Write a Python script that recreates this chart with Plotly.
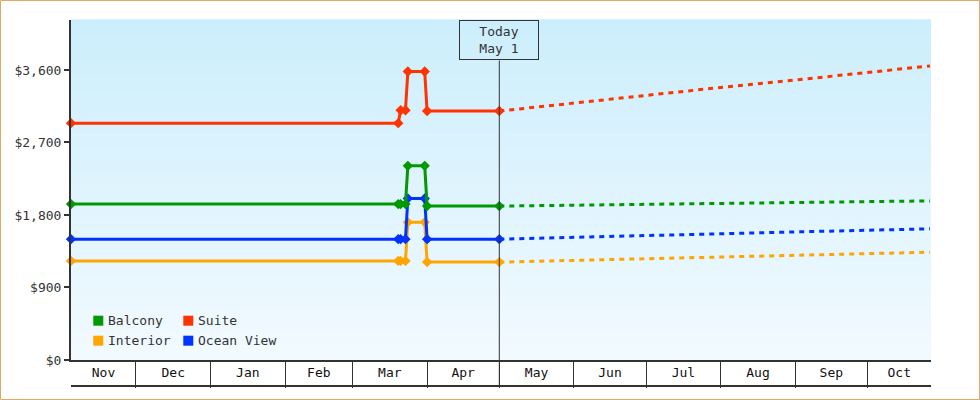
import plotly.graph_objects as go
import pandas as pd

# ---------------- data ----------------
hist_dates = ["2022-11-04", "2023-03-20", "2023-03-21", "2023-03-23",
              "2023-03-24", "2023-03-31", "2023-04-01", "2023-05-01"]
fc_dates = ["2023-05-01", "2023-06-01", "2023-07-01", "2023-08-01",
            "2023-09-01", "2023-10-01", "2023-10-27"]

balcony_hist = [1935, 1935, 1935, 1935, 2410, 2410, 1910, 1910]
suite_hist = [2940, 2940, 3100, 3100, 3580, 3580, 3090, 3090]
interior_hist = [1230, 1230, 1230, 1230, 1710, 1710, 1215, 1215]
ocean_hist = [1500, 1500, 1500, 1500, 2005, 2005, 1500, 1500]

balcony_fc = [1910, 1921, 1932, 1944, 1955, 1966, 1975]
suite_fc = [3090, 3190, 3285, 3383, 3475, 3570, 3650]
interior_fc = [1215, 1237, 1258, 1279, 1300, 1320, 1338]
ocean_fc = [1500, 1520, 1544, 1567, 1590, 1611, 1628]

month_names = ["Nov", "Dec", "Jan", "Feb", "Mar", "Apr",
               "May", "Jun", "Jul", "Aug", "Sep", "Oct"]
month_starts = ["2022-11-01", "2022-12-01", "2023-01-01", "2023-02-01",
                "2023-03-01", "2023-04-01", "2023-05-01", "2023-06-01",
                "2023-07-01", "2023-08-01", "2023-09-01", "2023-10-01",
                "2023-11-01"]
x_range = ["2022-11-04", "2023-10-27 10:00"]
y_ticks = [0, 900, 1800, 2700, 3600]
y_tick_labels = ["$0", "$900", "$1,800", "$2,700", "$3,600"]
today = "2023-05-01"

series = [
    ("Interior", interior_hist, interior_fc, "#ffa500"),
    ("Ocean View", ocean_hist, ocean_fc, "#0033ff"),
    ("Balcony", balcony_hist, balcony_fc, "#009900"),
    ("Suite", suite_hist, suite_fc, "#ff3300"),
]
legend_items = [("Balcony", "#009900"), ("Suite", "#ff3300"),
                ("Interior", "#ffa500"), ("Ocean View", "#0033ff")]

FONT = "DejaVu Sans Mono"
INK = "#333333"

# plot-area geometry (px) used to convert decorations to paper coords
L, R, T, B = 71, 49, 20, 40
W, H = 980, 400
PW, PH = W - L - R, H - T - B


def px_x(px):
    return (px - L) / PW


def px_y(py):
    return (H - B - py) / PH


fig = go.Figure()

for name, h, f, c in series:
    fig.add_trace(go.Scatter(
        x=fc_dates, y=f, mode="lines", name=name, showlegend=False,
        line=dict(color=c, width=3, dash="5px,5px"), cliponaxis=False,
        hoverinfo="skip"))
for name, h, f, c in series:
    fig.add_trace(go.Scatter(
        x=hist_dates, y=h, mode="lines+markers", name=name, showlegend=False,
        line=dict(color=c, width=3), cliponaxis=False,
        marker=dict(symbol="diamond", size=8, color=c)))

# invisible trace so the label axis exists
fig.add_trace(go.Scatter(x=[x_range[0]], y=[0], xaxis="x2", mode="markers",
                         marker=dict(opacity=0), showlegend=False,
                         hoverinfo="skip"))

# month label positions: middle of the visible part of each month
r0, r1 = pd.Timestamp(x_range[0]), pd.Timestamp(x_range[1])
mids = []
for i in range(len(month_names)):
    s = max(pd.Timestamp(month_starts[i]), r0)
    e = min(pd.Timestamp(month_starts[i + 1]), r1)
    mids.append((s + (e - s) / 2).strftime("%Y-%m-%d %H:%M"))

shapes = []
# background gradient
n = 68
top = (204, 238, 252)
bot = (242, 250, 255)
for i in range(n):
    t = (i + 0.5) / n
    col = tuple(round(bot[k] + (top[k] - bot[k]) * t) for k in range(3))
    shapes.append(dict(type="rect", xref="paper", yref="paper",
                       x0=0, x1=1, y0=i / n, y1=(i + 1) / n + 0.002,
                       fillcolor="rgb(%d,%d,%d)" % col, line=dict(width=0),
                       layer="below"))
# bottom line of the month band
shapes.append(dict(type="line", xref="paper", yref="paper",
                   x0=0, x1=1, y0=px_y(386), y1=px_y(386),
                   line=dict(color=INK, width=2)))
# today line
shapes.append(dict(type="line", xref="x", yref="paper",
                   x0=today, x1=today, y0=px_y(386), y1=px_y(60.5),
                   line=dict(color=INK, width=1)))
# outer border
shapes.append(dict(type="rect", xref="paper", yref="paper",
                   x0=px_x(0.5), x1=px_x(979.5), y0=px_y(399.5), y1=px_y(0.5),
                   line=dict(color="#e8a862", width=1)))

annotations = []
# legend
rows = [320.7, 340.7]
cols = [93.3, 183.3]
for i, (name, c) in enumerate(legend_items):
    cx = cols[i % 2]
    cy = rows[i // 2]
    shapes.append(dict(type="rect", xref="paper", yref="paper",
                       x0=px_x(cx), x1=px_x(cx + 10),
                       y0=px_y(cy + 5), y1=px_y(cy - 5),
                       fillcolor=c, line=dict(width=0)))
    annotations.append(dict(x=px_x(cx + 12.5), y=px_y(cy), xref="paper",
                            yref="paper", xanchor="left", yanchor="middle",
                            text=name, showarrow=False,
                            font=dict(family=FONT, size=13, color=INK)))

annotations.append(dict(x=today, y=1, xref="x", yref="paper",
                        xanchor="center", yanchor="top",
                        text="Today<br>May 1", showarrow=False,
                        width=76, height=36, borderpad=1,
                        bordercolor=INK, borderwidth=1,
                        font=dict(family=FONT, size=13, color=INK)))

fig.update_layout(
    width=W, height=H, autosize=False,
    margin=dict(l=L, r=R, t=T, b=B),
    paper_bgcolor="white", plot_bgcolor="rgb(230,246,255)",
    showlegend=False,
    font=dict(family=FONT, size=13, color=INK),
    xaxis=dict(type="date", range=x_range, showgrid=False, zeroline=False,
               showline=True, linecolor=INK, linewidth=2,
               ticks="outside", ticklen=26, tickwidth=1, tickcolor=INK,
               tickvals=month_starts[1:-1], showticklabels=False),
    xaxis2=dict(type="date", range=x_range, overlaying="x", anchor="y",
                side="bottom", showgrid=False, zeroline=False, showline=False,
                ticks="", tickvals=mids, ticktext=month_names,
                ticklabelstandoff=3,
                tickfont=dict(family=FONT, size=13, color="#111111")),
    yaxis=dict(range=[0, 4220], showgrid=False, zeroline=False,
               showline=True, linecolor=INK, linewidth=2,
               ticks="outside", ticklen=5, tickwidth=2, tickcolor=INK,
               tickmode="array", tickvals=y_ticks, ticktext=y_tick_labels,
               tickfont=dict(family=FONT, size=13, color=INK)),
    shapes=shapes, annotations=annotations,
)

fig.write_html("out.html",
               config={"displayModeBar": False},
               post_script="document.body.style.margin='0';")
